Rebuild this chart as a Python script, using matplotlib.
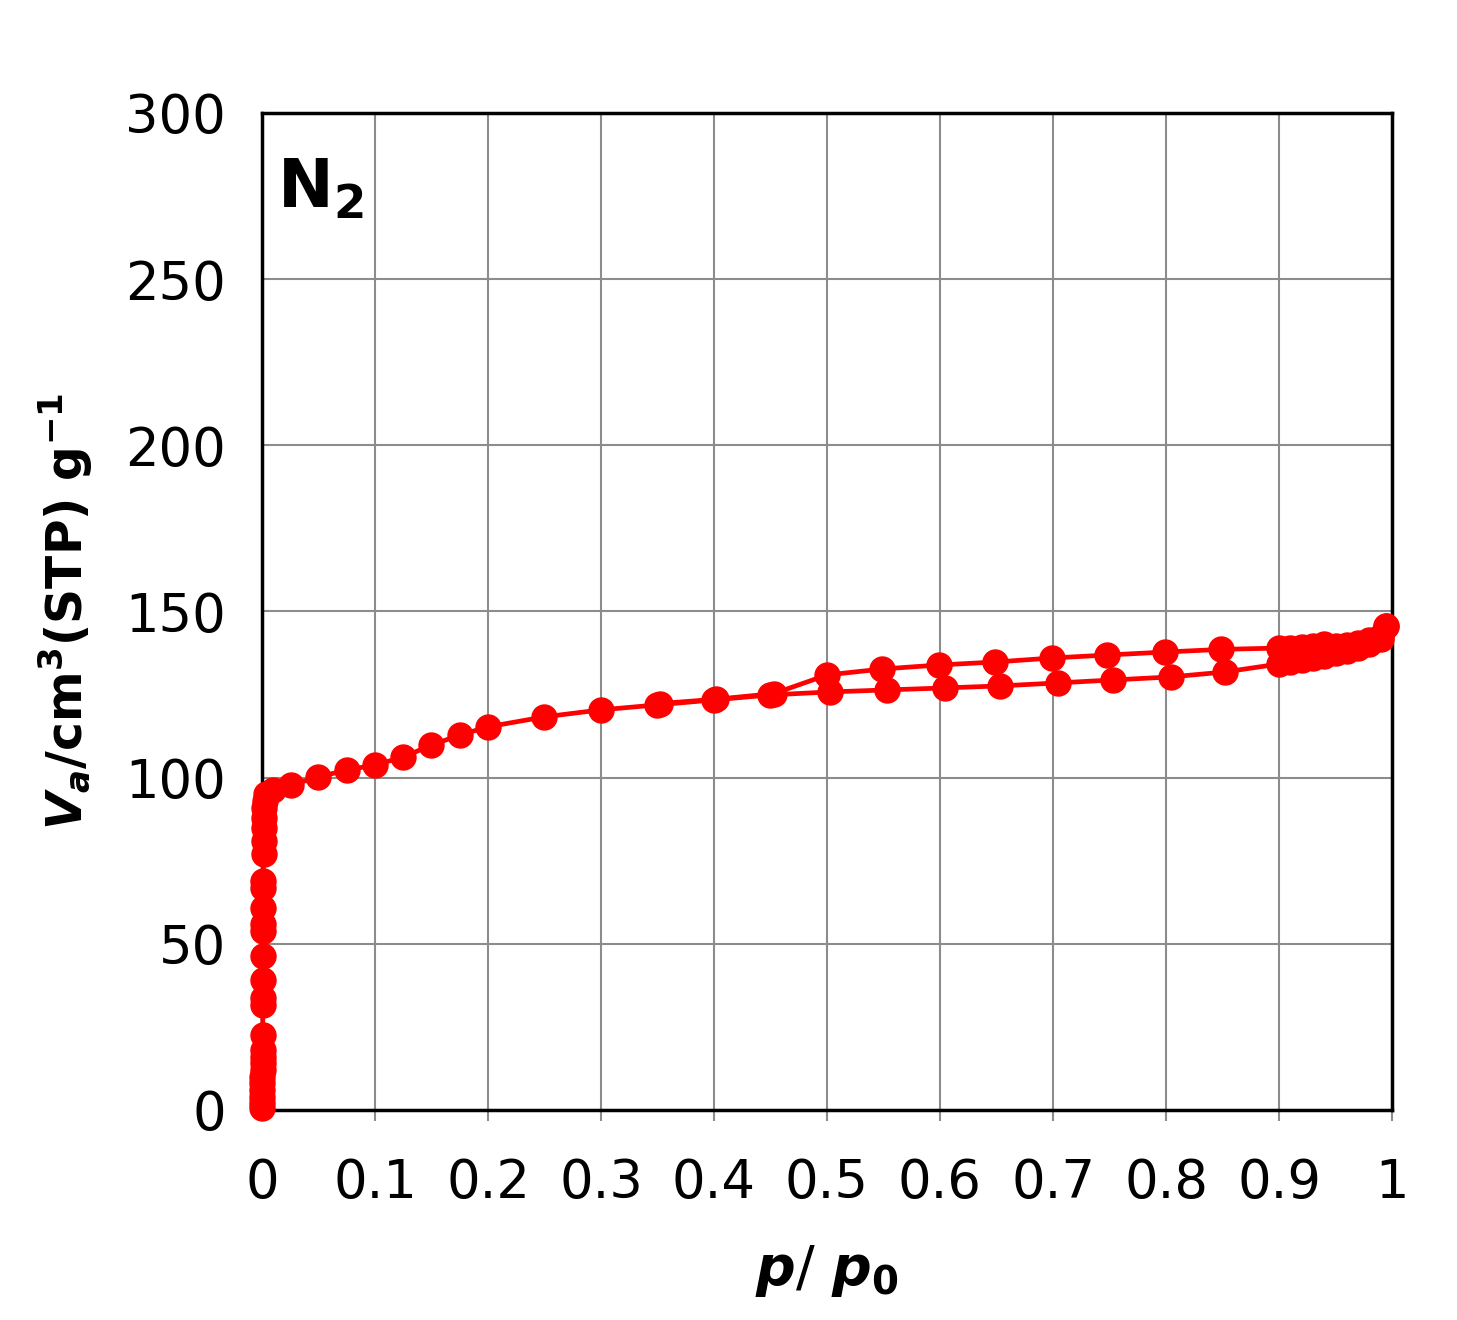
import matplotlib
matplotlib.use('Agg')
import matplotlib.pyplot as plt

# adsorption branch (p/p0, Va)
ads_p = [0.0002, 0.0002, 0.0003, 0.0003, 0.0004, 0.0004, 0.0005, 0.0005, 0.0006, 0.0006,
         0.0007, 0.0008, 0.0008, 0.0009, 0.0010, 0.0010, 0.0011, 0.0012, 0.0012, 0.0013,
         0.0014, 0.0015, 0.0016, 0.0017, 0.0020, 0.0025, 0.004, 0.010, 0.026, 0.05,
         0.075, 0.10, 0.125, 0.15, 0.175, 0.20, 0.25, 0.30, 0.35, 0.40, 0.45, 0.503,
         0.553, 0.604, 0.653, 0.704, 0.753, 0.804, 0.852, 0.90, 0.91, 0.92, 0.93,
         0.94, 0.95, 0.96, 0.97, 0.98, 0.99, 0.995]
ads_v = [0.5, 2, 4, 6, 8, 10, 12, 14, 16, 18, 22.6, 31.6, 33.7, 39, 46.3, 54, 56, 60.8,
         66.8, 69, 77, 81, 85, 88, 91, 93, 95, 96.3, 97.8, 100.2, 102.3, 103.8, 106.2,
         109.8, 112.8, 115.3, 118.3, 120.4, 121.9, 123.4, 124.9, 125.8, 126.4, 127.0,
         127.6, 128.5, 129.4, 130.3, 131.8, 134.2, 134.8, 135.4, 136.0, 136.7, 137.4,
         138.2, 139.0, 140.3, 141.8, 145.6]

# desorption branch
des_p = [0.995, 0.99, 0.98, 0.97, 0.96, 0.95, 0.94, 0.93, 0.92, 0.91, 0.90, 0.849,
         0.799, 0.748, 0.699, 0.649, 0.599, 0.549, 0.50, 0.453, 0.402, 0.352]
des_v = [145.6, 142.5, 141.3, 140.6, 140.0, 139.6, 140.2, 139.6, 139.2, 139.0, 139.0,
         138.6, 137.8, 136.9, 136.0, 134.8, 133.9, 132.7, 130.9, 125.3, 123.6, 122.3]

xticks = [0, 0.1, 0.2, 0.3, 0.4, 0.5, 0.6, 0.7, 0.8, 0.9, 1]
xtick_labels = ['0', '0.1', '0.2', '0.3', '0.4', '0.5', '0.6', '0.7', '0.8', '0.9', '1']
yticks = [0, 50, 100, 150, 200, 250, 300]

plt.rcParams['font.family'] = 'DejaVu Sans'
plt.rcParams['mathtext.fontset'] = 'custom'
plt.rcParams['mathtext.rm'] = 'DejaVu Sans:bold'
plt.rcParams['mathtext.it'] = 'DejaVu Sans:italic:bold'
plt.rcParams['mathtext.bf'] = 'DejaVu Sans:bold'

fig = plt.figure(figsize=(14.57, 13.2), dpi=100)
ax = fig.add_axes([0.1798, 0.1591, 0.7756, 0.7553])

ax.plot(ads_p, ads_v, color='#ff0000', lw=3.4, marker='o', ms=18,
        clip_on=False, zorder=3)
ax.plot(des_p, des_v, color='#ff0000', lw=3.4, marker='o', ms=18,
        clip_on=False, zorder=3)

ax.set_xlim(0, 1)
ax.set_ylim(0, 300)
ax.set_xticks(xticks)
ax.set_xticklabels(xtick_labels)
ax.set_yticks(yticks)
ax.grid(True, color='#8c8c8c', lw=1.5)
ax.set_axisbelow(True)
for s in ax.spines.values():
    s.set_color('black')
    s.set_linewidth(2.5)
ax.tick_params(axis='x', labelsize=38, length=8, width=1.5, color='#8c8c8c', pad=26)
ax.tick_params(axis='y', labelsize=38, length=0, pad=26)

ax.set_xlabel(r'$p$/ $p_0$', fontsize=40, labelpad=24)
ax.set_ylabel(r'$V_a$/cm$^3$(STP) g$^{-1}$', fontsize=35, fontweight='bold', labelpad=22)

ax.text(0.013, 0.905, r'N$_2$', transform=ax.transAxes, fontsize=48, fontweight='bold')

plt.savefig('out.png', dpi=100)
